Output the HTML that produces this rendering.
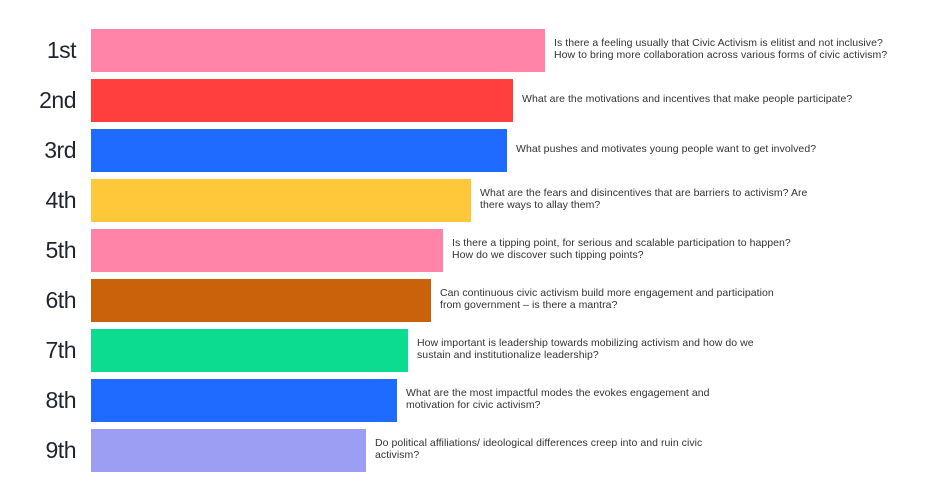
<!DOCTYPE html>
<html><head><meta charset="utf-8"><style>
body{margin:0;width:936px;height:492px;background:#fff;font-family:"Liberation Sans",sans-serif;position:relative;overflow:hidden}
.l{position:absolute;right:860px;font-size:23px;color:#1f2430;letter-spacing:-0.5px;line-height:43px}
.b{position:absolute;left:91px;height:43px}
.t{position:absolute;font-size:10.5px;line-height:12px;color:#333;letter-spacing:0.05px;white-space:nowrap}
</style></head><body>
<div class="l" style="top:29px">1st</div><div class="b" style="top:29px;width:454px;background:#ff84a8"></div>
<div class="t" style="left:554px;top:37px">Is there a feeling usually that Civic Activism is elitist and not inclusive?<br>How to bring more collaboration across various forms of civic activism?</div>
<div class="l" style="top:79px">2nd</div><div class="b" style="top:79px;width:422px;background:#ff3f3d"></div>
<div class="t" style="left:522px;top:93px">What are the motivations and incentives that make people participate?</div>
<div class="l" style="top:129px">3rd</div><div class="b" style="top:129px;width:416px;background:#1f6bff"></div>
<div class="t" style="left:516px;top:143px">What pushes and motivates young people want to get involved?</div>
<div class="l" style="top:179px">4th</div><div class="b" style="top:179px;width:380px;background:#ffc83a"></div>
<div class="t" style="left:480px;top:187px">What are the fears and disincentives that are barriers to activism? Are<br>there ways to allay them?</div>
<div class="l" style="top:229px">5th</div><div class="b" style="top:229px;width:352px;background:#ff84a8"></div>
<div class="t" style="left:452px;top:237px">Is there a tipping point, for serious and scalable participation to happen?<br>How do we discover such tipping points?</div>
<div class="l" style="top:279px">6th</div><div class="b" style="top:279px;width:340px;background:#c9620a"></div>
<div class="t" style="left:440px;top:287px">Can continuous civic activism build more engagement and participation<br>from government – is there a mantra?</div>
<div class="l" style="top:329px">7th</div><div class="b" style="top:329px;width:317px;background:#0bdc8f"></div>
<div class="t" style="left:417px;top:337px">How important is leadership towards mobilizing activism and how do we<br>sustain and institutionalize leadership?</div>
<div class="l" style="top:379px">8th</div><div class="b" style="top:379px;width:306px;background:#1f6bff"></div>
<div class="t" style="left:406px;top:387px">What are the most impactful modes the evokes engagement and<br>motivation for civic activism?</div>
<div class="l" style="top:429px">9th</div><div class="b" style="top:429px;width:275px;background:#9b9ef3"></div>
<div class="t" style="left:375px;top:437px">Do political affiliations/ ideological differences creep into and ruin civic<br>activism?</div>
</body></html>
